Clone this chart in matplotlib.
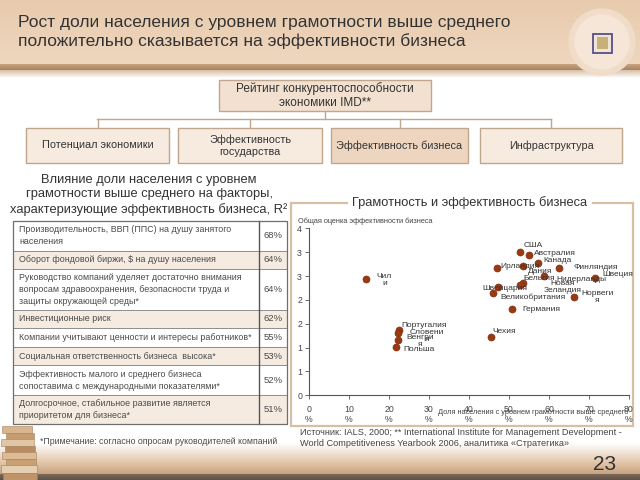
import numpy as np
import matplotlib
matplotlib.use("Agg")
import matplotlib.pyplot as plt
from matplotlib import font_manager
from matplotlib.patches import Rectangle, Circle
from matplotlib.ticker import FixedLocator, FuncFormatter
from matplotlib.colors import to_rgb

# ---- data ----
countries = ["Чил\nи", "США", "Австралия", "Канада", "Финляндия", "Ирландия", "Дания",
             "Нидерланды", "Швеция", "Бельгия", "Новая\nЗеландия", "Великобритания",
             "Швейцария", "Норвеги\nя", "Германия", "Чехия", "Португалия",
             "Словени\nя", "Венгри\nя", "Польша"]
literacy = [14.2, 52.8, 55.1, 57.3, 62.6, 46.9, 53.4, 58.8, 71.6, 53.6, 52.8, 47.3,
            45.9, 66.3, 50.8, 45.5, 22.6, 22.2, 22.3, 21.8]
business = [2.44, 3.01, 2.93, 2.77, 2.67, 2.66, 2.72, 2.50, 2.46, 2.36, 2.31, 2.27,
            2.15, 2.07, 1.81, 1.23, 1.37, 1.31, 1.16, 1.02]

factors = ["Производительность, ВВП (ППС) на душу занятого\nнаселения",
           "Оборот фондовой биржи, $ на душу населения",
           "Руководство компаний уделяет достаточно внимания\nвопросам здравоохранения, безопасности труда и\nзащиты окружающей среды*",
           "Инвестиционные риск",
           "Компании учитывают ценности и интересы работников*",
           "Социальная ответственность бизнеса  высока*",
           "Эффективность малого и среднего бизнеса\nсопоставима с международными показателями*",
           "Долгосрочное, стабильное развитие является\nприоритетом для бизнеса*"]
r2 = [68, 64, 64, 62, 55, 53, 52, 51]

pillars = ["Потенциал экономики", "Эффективность\nгосударства",
           "Эффективность бизнеса", "Инфраструктура"]

# label offsets in pixels (dx right, dy down) relative to each point
label_off = [(11, 1), (3, -6), (5, -2), (5, -3), (14, 0), (4, -2), (5, 6),
             (12, 3), (7, -3), (0, -4), (23, 2), (2, 10),
             (-10, -4), (7, 0), (10, 1), (1, -5), (2, -4),
             (12, 3), (8, 1), (7, 3)]


def pick_font(names):
    for n in names:
        try:
            font_manager.findfont(n, fallback_to_default=False)
            return n
        except ValueError:
            pass
    return "DejaVu Sans"


narrow = pick_font(["Liberation Sans Narrow", "Liberation Sans", "DejaVu Sans"])
regular = pick_font(["Liberation Sans", "DejaVu Sans"])
plt.rcParams['font.family'] = [narrow, 'DejaVu Sans']

TEXT = "#333333"
TAN_EDGE = "#bfa68c"

fig = plt.figure(figsize=(6.4, 4.8), dpi=100)
fig.patch.set_facecolor("white")
bg = fig.add_axes([0, 0, 1, 1])
bg.set_xlim(0, 640)
bg.set_ylim(480, 0)
bg.axis("off")


def vgrad(y0, y1, c0, c1, x0=0, x1=640, z=0):
    t = np.linspace(0, 1, 64)[:, None]
    a, b = np.array(to_rgb(c0)), np.array(to_rgb(c1))
    img = (a + (b - a) * t)[:, None, :]
    bg.imshow(img, extent=[x0, x1, y1, y0], aspect="auto", zorder=z)


# header band
vgrad(0, 64, "#e8cbad", "#eed6bf")
vgrad(64, 70, "#c9a481", "#a98361")
vgrad(70, 78, "#d8bea4", "#ffffff")
bg.add_patch(Circle((602, 42), 33, color="#f0dcc8", zorder=2))
bg.add_patch(Circle((602, 42), 27, color="#f5e6d7", zorder=2))
bg.add_patch(Rectangle((593, 34), 19, 19, facecolor="#efe6d2", edgecolor="#5a4d8c", lw=1.3, zorder=3))
bg.add_patch(Rectangle((597, 37), 11, 12, facecolor="#c9b07a", edgecolor="none", zorder=4))
bg.text(18, 32, "Рост доли населения с уровнем грамотности выше среднего\n"
        "положительно сказывается на эффективности бизнеса",
        fontsize=12.5, color=TEXT, va="center", ha="left", linespacing=1.25, zorder=5)

# bottom band
vgrad(443, 462, "#ffffff", "#e3c7aa")
vgrad(462, 474, "#e3c7aa", "#c8a27f")
vgrad(474, 480, "#7d6a5a", "#5c5046")
bg.text(605, 465, "23", fontsize=15, color=TEXT, ha="center", va="center", family=regular, zorder=5)

# books at bottom-left
books = [(2, 426, 30, 7, "#d7b58d"), (6, 433, 28, 6, "#c59c70"), (1, 439, 33, 7, "#e2c6a3"),
         (5, 446, 30, 6, "#b98d61"), (2, 452, 34, 7, "#dcbb95"), (6, 459, 30, 6, "#c7a074"),
         (1, 465, 36, 8, "#e6cfb1"), (3, 473, 34, 7, "#bf9468")]
for bx, by, bw, bh, bc in books:
    bg.add_patch(Rectangle((bx, by), bw, bh, facecolor=bc, edgecolor="#a78160", lw=0.4, zorder=3))

# IMD structure
bg.add_patch(Rectangle((219, 80), 212, 31, facecolor="#f2e1d0", edgecolor=TAN_EDGE, lw=1, zorder=2))
bg.text(325, 95.5, "Рейтинг конкурентоспособности\nэкономики IMD**", fontsize=8.5, color=TEXT,
        ha="center", va="center", linespacing=1.25, zorder=3)
box_x = [(26, 169), (178, 322), (331, 468), (480, 622)]
bg.plot([97, 551], [119, 119], color=TAN_EDGE, lw=1, zorder=1)
bg.plot([325, 325], [111, 119], color=TAN_EDGE, lw=1, zorder=1)
for (x0, x1), name in zip(box_x, pillars):
    xc = (x0 + x1) / 2
    bg.plot([xc, xc], [119, 128], color=TAN_EDGE, lw=1, zorder=1)
    fc = "#edd5bf" if "бизнеса" in name else "#f7ebe0"
    bg.add_patch(Rectangle((x0, 128), x1 - x0, 35, facecolor=fc, edgecolor=TAN_EDGE, lw=1, zorder=2))
    bg.text(xc, 145.5, name, fontsize=7.8, color=TEXT, ha="center", va="center",
            linespacing=1.3, zorder=3)

# left block: title + table
bg.text(149, 195, "Влияние доли населения с уровнем\nграмотности выше среднего на факторы,\n"
        "характеризующие эффективность бизнеса, R²",
        fontsize=9.3, color=TEXT, ha="center", va="center", linespacing=1.3)

row_lines = [2, 1, 3, 1, 1, 1, 2, 2]
row_h = {1: 18.6, 2: 29.5, 3: 40.5}
tx0, tdiv, tx1 = 13, 259, 287
y = 221
for i, (txt, val, nl) in enumerate(zip(factors, r2, row_lines)):
    h = row_h[nl]
    fc = "#f5ebe1" if i % 2 == 1 else "white"
    bg.add_patch(Rectangle((tx0, y), tx1 - tx0, h, facecolor=fc, edgecolor="#8f8f8f", lw=0.7, zorder=2))
    bg.text(tx0 + 6, y + h / 2, txt, fontsize=6.4, color="#4a4a4a", ha="left", va="center",
            linespacing=1.45, zorder=3)
    bg.text((tdiv + tx1) / 2, y + h / 2, f"{val}%", fontsize=6.8, color="#4a4a4a",
            ha="center", va="center", zorder=3)
    y += h
bg.plot([tdiv, tdiv], [221, y], color="#555555", lw=1.0, zorder=4)
bg.add_patch(Rectangle((tx0, 221), tx1 - tx0, y - 221, facecolor="none", edgecolor="#6f6f6f", lw=0.9, zorder=4))
bg.text(40, 441, "*Примечание: согласно опросам руководителей компаний", fontsize=6.3,
        color="#4a4a4a", ha="left", va="center")

# chart panel frame
bg.add_patch(Rectangle((291, 203), 342, 223, facecolor="none", edgecolor="#d6bfa3", lw=1.6, zorder=1))
bg.text(470, 203, "Грамотность и эффективность бизнеса", fontsize=9.3, color=TEXT,
        ha="center", va="center", zorder=3,
        bbox=dict(facecolor="white", edgecolor="none", pad=3))
bg.text(298, 221, "Общая оценка эффективности бизнеса", fontsize=5.3, color="#444444",
        ha="left", va="center", zorder=3)
bg.text(628, 412, "Доля населения с уровнем грамотности выше среднего", fontsize=5.3,
        color="#444444", ha="right", va="center", zorder=5)
bg.text(300, 438, "Источник: IALS, 2000; ** International Institute for Management Development -\n"
        "World Competitiveness Yearbook 2006, аналитика «Стратегика»",
        fontsize=6.6, color="#444444", ha="left", va="center", linespacing=1.35)

# scatter
ax = fig.add_axes([309 / 640, 1 - 395.3 / 480, 320 / 640, 167 / 480])
ax.patch.set_alpha(0)
ax.scatter(literacy, business, s=26, color="#9a3a12", edgecolor="#7a2a0a", lw=0.4,
           zorder=3, clip_on=False)
for name, xv, yv, (dx, dy) in zip(countries, literacy, business, label_off):
    ax.annotate(name, (xv, yv), xytext=(dx * 0.72, -dy * 0.72), textcoords="offset points",
                fontsize=6, color="#333333", ha="left", va="center",
                multialignment="center", linespacing=1.0, zorder=4)
ax.set_xlim(0, 80)
ax.set_ylim(0, 3.5)
ax.xaxis.set_major_locator(FixedLocator(np.arange(0, 81, 10)))
ax.yaxis.set_major_locator(FixedLocator(np.arange(0, 3.51, 0.5)))
ax.xaxis.set_major_formatter(FuncFormatter(lambda v, p: f"{int(v)}\n%"))
ax.yaxis.set_major_formatter(FuncFormatter(lambda v, p: str(int(np.floor(v + 0.5)))))
for s in ["top", "right"]:
    ax.spines[s].set_visible(False)
for s in ["left", "bottom"]:
    ax.spines[s].set_color("#555555")
    ax.spines[s].set_linewidth(0.8)
ax.tick_params(axis="both", labelsize=6.3, colors="#555555", labelcolor="#444444",
               length=3, width=0.6, pad=2)
ax.tick_params(axis="x", pad=4)

fig.savefig("out.png", dpi=100)
